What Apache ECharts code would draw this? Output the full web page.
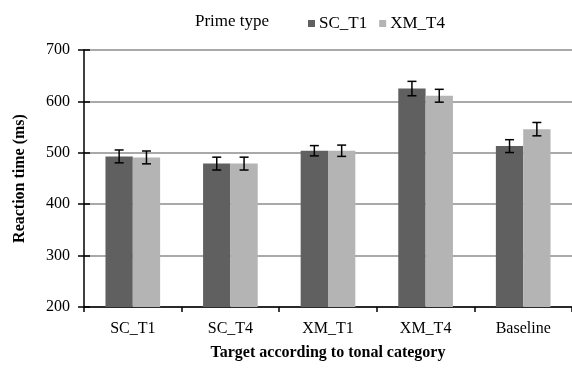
<!DOCTYPE html>
<html>
<head>
<meta charset="utf-8">
<script src="https://cdn.jsdelivr.net/npm/echarts@6/dist/echarts.min.js"></script>
<style>html,body{margin:0;padding:0;background:#fff}#c{width:572px;height:369px}</style>
</head>
<body>
<div id="c"></div>
<script>
var categories = ['SC_T1', 'SC_T4', 'XM_T1', 'XM_T4', 'Baseline'];
var seriesNames = ['SC_T1', 'XM_T4'];
var scT1Means = [493, 479, 504, 625, 513];
var scT1Errors = [12.5, 12.5, 10, 14, 12.5];
var xmT4Means = [491, 479, 504, 611, 546];
var xmT4Errors = [12.5, 12.5, 11, 12.5, 13];
var yTicks = [200, 300, 400, 500, 600, 700];

var FONT = 'Liberation Serif';
var colors = ['#606060', '#b4b4b4'];

function errorSeries(means, errs, idx) {
  var data = means.map(function (m, i) { return [i, m - errs[i], m + errs[i]]; });
  return {
    type: 'custom',
    name: seriesNames[idx] + ' err',
    z: 10,
    silent: true,
    renderItem: function (params, api) {
      var band = api.size([1, 0])[0];
      var barW = band * 0.28;
      var off = (idx === 0 ? -0.5 : 0.5) * barW;
      var lo = api.coord([api.value(0), api.value(1)]);
      var hi = api.coord([api.value(0), api.value(2)]);
      var x = lo[0] + off;
      var cap = 4.5;
      var st = { stroke: '#000', lineWidth: 1.5, fill: null };
      return {
        type: 'group',
        children: [
          { type: 'line', shape: { x1: x, y1: lo[1], x2: x, y2: hi[1] }, style: st },
          { type: 'line', shape: { x1: x - cap, y1: lo[1], x2: x + cap, y2: lo[1] }, style: st },
          { type: 'line', shape: { x1: x - cap, y1: hi[1], x2: x + cap, y2: hi[1] }, style: st }
        ]
      };
    },
    encode: { x: 0, y: [1, 2] },
    data: data
  };
}

var chart = echarts.init(document.getElementById('c'));
chart.setOption({
  animation: false,
  textStyle: { fontFamily: FONT },
  title: {
    text: 'Prime type',
    left: 190, top: 8,
    textStyle: { fontFamily: FONT, fontSize: 17, fontWeight: 'normal', color: '#000' }
  },
  legend: {
    data: seriesNames,
    left: 303, top: 10,
    icon: 'rect', itemWidth: 7, itemHeight: 7, itemGap: 12,
    textStyle: { fontFamily: FONT, fontSize: 17, color: '#000', padding: [0, 0, 0, -1] }
  },
  grid: { left: 84, right: 0, top: 50, bottom: 62, containLabel: false, outerBoundsMode: 'none' },
  xAxis: {
    type: 'category',
    data: categories,
    name: 'Target according to tonal category',
    nameLocation: 'middle',
    nameGap: 38,
    nameTextStyle: { fontFamily: FONT, fontSize: 16, fontWeight: 'bold', color: '#000' },
    axisLine: { lineStyle: { color: '#000', width: 1.5 } },
    axisTick: { show: true, alignWithLabel: false, length: 5, lineStyle: { color: '#000', width: 1.5 } },
    axisLabel: { fontFamily: FONT, fontSize: 16, color: '#000', margin: 14 }
  },
  yAxis: [{
    type: 'value',
    min: 200, max: 700, interval: 100,
    name: 'Reaction time (ms)',
    nameLocation: 'middle',
    nameGap: 56,
    nameTextStyle: { fontFamily: FONT, fontSize: 16, fontWeight: 'bold', color: '#000' },
    axisLine: { show: true, lineStyle: { color: '#000', width: 1.5 } },
    axisTick: { show: true, length: 6, lineStyle: { color: '#000', width: 1.5 } },
    axisLabel: { fontFamily: FONT, fontSize: 16, color: '#000', margin: 14 },
    splitLine: { show: true, lineStyle: { color: '#8c8c8c', width: 1.5 } }
  }, {
    type: 'value',
    position: 'left',
    min: 200, max: 700, interval: 100,
    axisLine: { show: false },
    axisTick: { show: true, inside: true, length: 6, lineStyle: { color: '#000', width: 1.5 } },
    axisLabel: { show: false },
    splitLine: { show: false }
  }],
  series: [
    {
      type: 'bar', name: seriesNames[0], data: scT1Means,
      barGap: '0%', barCategoryGap: '44%',
      itemStyle: { color: colors[0] }
    },
    {
      type: 'bar', name: seriesNames[1], data: xmT4Means,
      barGap: '0%', barCategoryGap: '44%',
      itemStyle: { color: colors[1] }
    },
    errorSeries(scT1Means, scT1Errors, 0),
    errorSeries(xmT4Means, xmT4Errors, 1)
  ]
});
</script>
</body>
</html>
